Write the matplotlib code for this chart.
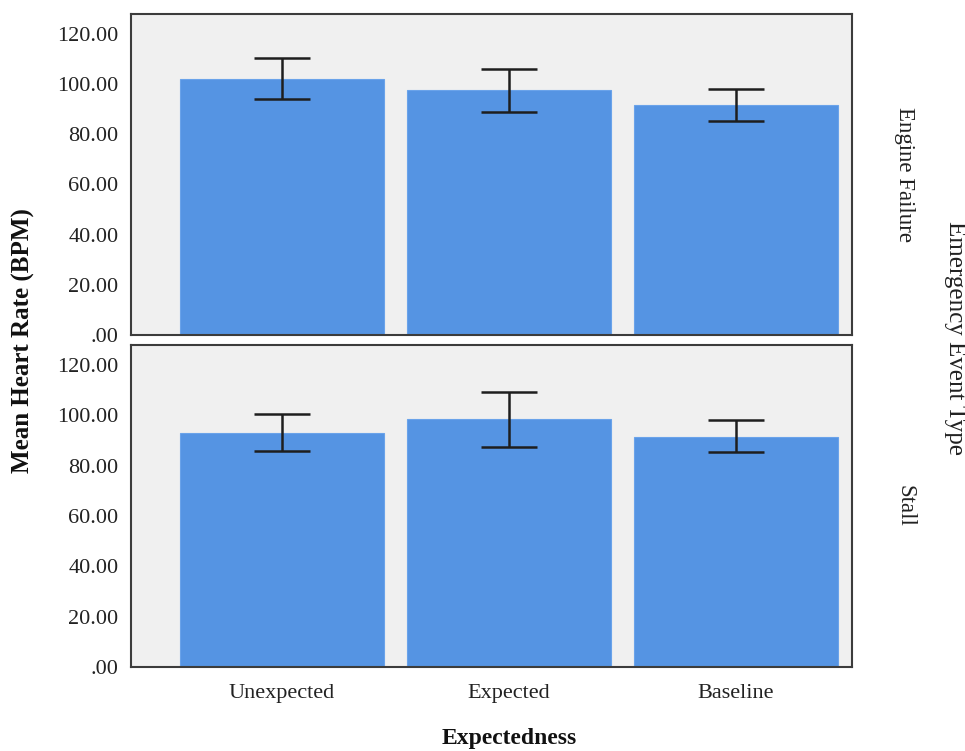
import numpy as np
import matplotlib.pyplot as plt
from matplotlib.ticker import FuncFormatter

categories = ['Unexpected', 'Expected', 'Baseline']
panels = ['Engine Failure', 'Stall']

# mean heart rate and error bar limits
means = {
    'Engine Failure': [102.0, 97.5, 91.6],
    'Stall': [92.8, 98.4, 91.5],
}
err_low = {
    'Engine Failure': [94.0, 89.0, 85.5],
    'Stall': [85.8, 87.4, 85.5],
}
err_high = {
    'Engine Failure': [110.3, 106.0, 98.0],
    'Stall': [100.5, 109.4, 98.0],
}
yticks = [0, 20, 40, 60, 80, 100, 120]

plt.rcParams['font.family'] = ['Liberation Serif', 'DejaVu Serif']

bar_color = '#5594e3'
bg_color = '#f0f0f0'
frame_color = '#3c3c3c'


def spss_fmt(v, pos):
    s = f'{v:.2f}'
    if s.startswith('0'):
        s = s[1:]
    return s


fig = plt.figure(figsize=(9.65, 7.51), dpi=100)
ax_top = fig.add_axes([0.1358, 0.554, 0.747, 0.4274])
ax_bot = fig.add_axes([0.1358, 0.1119, 0.747, 0.4288])

x = np.arange(len(categories))
for ax, name in zip([ax_top, ax_bot], panels):
    m = np.array(means[name])
    lo = m - np.array(err_low[name])
    hi = np.array(err_high[name]) - m
    ax.set_facecolor(bg_color)
    ax.bar(x, m, width=0.9, color=bar_color, edgecolor='#6aa3ea', linewidth=0.8, zorder=2)
    ax.errorbar(x, m, yerr=[lo, hi], fmt='none', ecolor='#1e1e1e',
                elinewidth=1.8, capsize=20.5, capthick=1.8, zorder=3)
    ax.set_xlim(-0.665, 2.51)
    ax.set_ylim(0, 128)
    ax.set_yticks(yticks)
    ax.yaxis.set_major_formatter(FuncFormatter(spss_fmt))
    ax.tick_params(axis='both', length=0, labelsize=16, colors='#222222', pad=9)
    for sp in ax.spines.values():
        sp.set_color(frame_color)
        sp.set_linewidth(1.5)
    ax.yaxis.set_label_position('right')
    ax.set_ylabel(name, rotation=-90, fontsize=16.5, labelpad=38, va='center', color='#222222')

ax_top.set_xticks([])
ax_bot.set_xticks(x)
ax_bot.set_xticklabels(categories)
ax_bot.tick_params(axis='x', pad=12)

fig.text(0.024, 0.547, 'Mean Heart Rate (BPM)', rotation=90, ha='center', va='center',
         fontsize=18, fontweight='bold', color='#111111')
fig.text(0.528, 0.017, 'Expectedness', ha='center', va='center',
         fontsize=17, fontweight='bold', color='#111111')
fig.text(0.99, 0.55, 'Emergency Event Type', rotation=-90, ha='center', va='center',
         fontsize=18, color='#222222')

fig.savefig('out.png', dpi=100)
